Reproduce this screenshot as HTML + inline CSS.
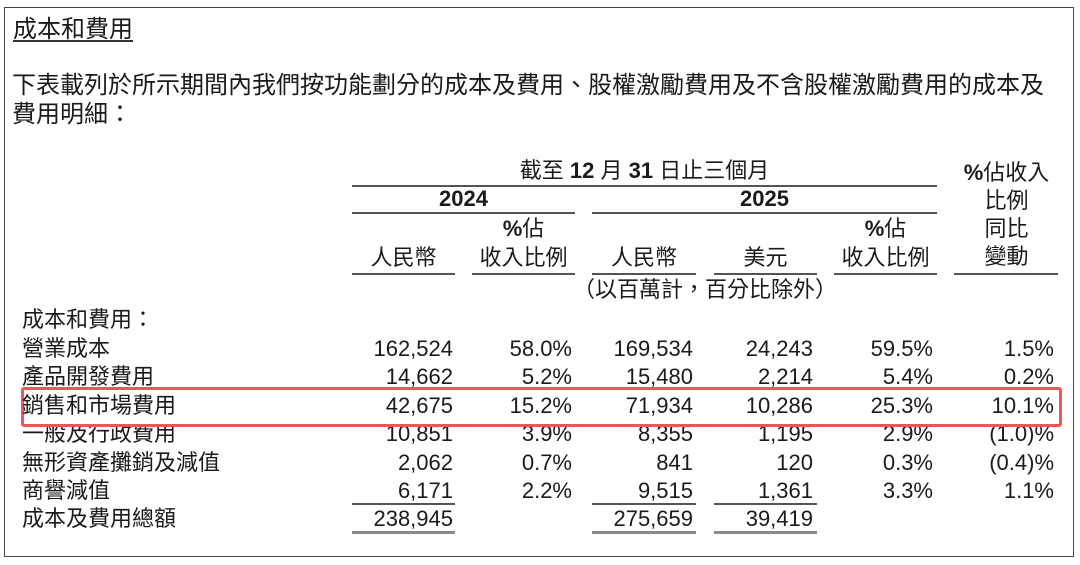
<!DOCTYPE html>
<html><head><meta charset="utf-8">
<style>
html,body{margin:0;padding:0;background:#fff;}
body{width:1080px;height:565px;position:relative;overflow:hidden;font-family:"Liberation Sans","Noto Sans CJK TC",sans-serif;color:#1a1a1a;}
.t{position:absolute;white-space:nowrap;font-size:22px;line-height:28px;height:28px;}
.c{text-align:center;}
.r{text-align:right;width:200px;}
.ln{position:absolute;height:1.5px;background:#555;}
.dl{position:absolute;height:3px;background:#8a8a8a;}
b{font-weight:bold;}
</style></head><body>
<div style="position:absolute;left:4px;top:7px;width:1068px;height:548px;border:1.5px solid #444;"></div>

<div class="t" style="left:13px;top:16px;font-size:24px;">成本和費用</div>
<div class="ln" style="left:13px;top:40px;width:120px;background:#333;"></div>
<div class="t" style="left:12px;top:72px;font-size:24px;">下表載列於所示期間內我們按功能劃分的成本及費用、股權激勵費用及不含股權激勵費用的成本及</div>
<div class="t" style="left:12px;top:101px;font-size:24px;">費用明細：</div>

<!-- header -->
<div class="t c" style="left:352px;width:585px;top:157px;">截至 <b>12</b> 月 <b>31</b> 日止三個月</div>
<div class="ln" style="left:352px;top:185px;width:585px;"></div>
<div class="t c" style="left:955px;width:103px;top:159px;"><b>%</b>佔收入</div>
<div class="t c" style="left:955px;width:103px;top:187px;">比例</div>
<div class="t c" style="left:955px;width:103px;top:215px;">同比</div>
<div class="t c" style="left:955px;width:103px;top:243px;">變動</div>

<div class="t c" style="left:352px;width:223px;top:185px;"><b>2024</b></div>
<div class="t c" style="left:592px;width:345px;top:185px;"><b>2025</b></div>
<div class="ln" style="left:352px;top:212px;width:223px;"></div>
<div class="ln" style="left:592px;top:212px;width:345px;"></div>

<div class="t c" style="left:472px;width:103px;top:215px;"><b>%</b>佔</div>
<div class="t c" style="left:834px;width:103px;top:215px;"><b>%</b>佔</div>
<div class="t c" style="left:352px;width:103px;top:244px;">人民幣</div>
<div class="t c" style="left:472px;width:103px;top:244px;">收入比例</div>
<div class="t c" style="left:592px;width:104px;top:244px;">人民幣</div>
<div class="t c" style="left:714px;width:103px;top:244px;">美元</div>
<div class="t c" style="left:834px;width:103px;top:244px;">收入比例</div>

<div class="ln" style="left:352px;top:273px;width:103px;"></div>
<div class="ln" style="left:472px;top:273px;width:103px;"></div>
<div class="ln" style="left:592px;top:273px;width:104px;"></div>
<div class="ln" style="left:714px;top:273px;width:103px;"></div>
<div class="ln" style="left:834px;top:273px;width:103px;"></div>
<div class="ln" style="left:954px;top:273px;width:104px;"></div>

<div class="t c" style="left:573px;width:264px;top:276px;">（以百萬計，百分比除外）</div>

<!-- rows -->
<div class="t" style="left:22px;top:306px;">成本和費用：</div>

<div class="t" style="left:22px;top:335px;">營業成本</div>
<div class="t r" style="left:253px;top:335px;">162,524</div>
<div class="t r" style="left:372px;top:335px;">58.0%</div>
<div class="t r" style="left:493px;top:335px;">169,534</div>
<div class="t r" style="left:613px;top:335px;">24,243</div>
<div class="t r" style="left:733px;top:335px;">59.5%</div>
<div class="t r" style="left:854px;top:335px;">1.5%</div>

<div class="t" style="left:22px;top:363px;">產品開發費用</div>
<div class="t r" style="left:253px;top:363px;">14,662</div>
<div class="t r" style="left:372px;top:363px;">5.2%</div>
<div class="t r" style="left:493px;top:363px;">15,480</div>
<div class="t r" style="left:613px;top:363px;">2,214</div>
<div class="t r" style="left:733px;top:363px;">5.4%</div>
<div class="t r" style="left:854px;top:363px;">0.2%</div>

<div class="t" style="left:22px;top:420px;">一般及行政費用</div>
<div class="t r" style="left:253px;top:420px;">10,851</div>
<div class="t r" style="left:372px;top:420px;">3.9%</div>
<div class="t r" style="left:493px;top:420px;">8,355</div>
<div class="t r" style="left:613px;top:420px;">1,195</div>
<div class="t r" style="left:733px;top:420px;">2.9%</div>
<div class="t r" style="left:854px;top:420px;">(1.0)%</div>

<!-- red highlight box -->
<div style="position:absolute;left:21px;top:387px;width:1035px;height:34px;border:3px solid #f05656;border-radius:3px;background:#fff;"></div>

<div class="t" style="left:22px;top:392px;">銷售和市場費用</div>
<div class="t r" style="left:253px;top:392px;">42,675</div>
<div class="t r" style="left:372px;top:392px;">15.2%</div>
<div class="t r" style="left:493px;top:392px;">71,934</div>
<div class="t r" style="left:613px;top:392px;">10,286</div>
<div class="t r" style="left:733px;top:392px;">25.3%</div>
<div class="t r" style="left:854px;top:392px;">10.1%</div>

<div class="t" style="left:22px;top:449px;">無形資產攤銷及減值</div>
<div class="t r" style="left:253px;top:449px;">2,062</div>
<div class="t r" style="left:372px;top:449px;">0.7%</div>
<div class="t r" style="left:493px;top:449px;">841</div>
<div class="t r" style="left:613px;top:449px;">120</div>
<div class="t r" style="left:733px;top:449px;">0.3%</div>
<div class="t r" style="left:854px;top:449px;">(0.4)%</div>

<div class="t" style="left:22px;top:477px;">商譽減值</div>
<div class="t r" style="left:253px;top:477px;">6,171</div>
<div class="t r" style="left:372px;top:477px;">2.2%</div>
<div class="t r" style="left:493px;top:477px;">9,515</div>
<div class="t r" style="left:613px;top:477px;">1,361</div>
<div class="t r" style="left:733px;top:477px;">3.3%</div>
<div class="t r" style="left:854px;top:477px;">1.1%</div>

<div class="ln" style="left:352px;top:503px;width:103px;"></div>
<div class="ln" style="left:592px;top:503px;width:104px;"></div>
<div class="ln" style="left:714px;top:503px;width:103px;"></div>

<div class="t" style="left:22px;top:505px;">成本及費用總額</div>
<div class="t r" style="left:253px;top:505px;">238,945</div>
<div class="t r" style="left:493px;top:505px;">275,659</div>
<div class="t r" style="left:613px;top:505px;">39,419</div>

<div class="dl" style="left:352px;top:531px;width:103px;"></div>
<div class="dl" style="left:592px;top:531px;width:104px;"></div>
<div class="dl" style="left:714px;top:531px;width:103px;"></div>
</body></html>
